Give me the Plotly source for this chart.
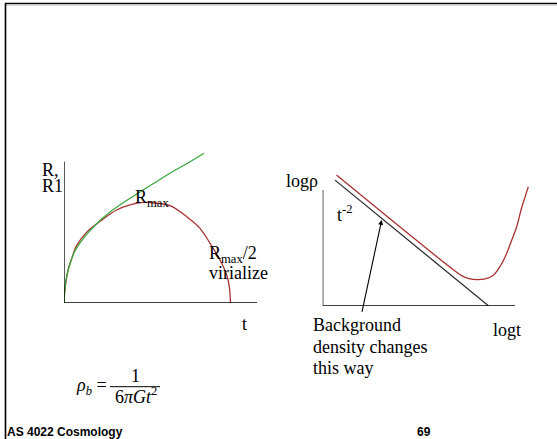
import plotly.graph_objects as go

W, H = 557, 439
SERIF = "Liberation Serif"
SANS = "Liberation Sans"
RED = "#a83030"
GREEN = "#3aa83a"

# ---- left panel data: radius of a perturbation vs time ----
t_pert = [0, 0.012, 0.052, 0.092, 0.153, 0.273, 0.432, 0.633, 0.793, 0.949,
          1.093, 1.273, 1.474, 1.634, 1.754, 1.874, 1.954, 1.986, 2.0]
R_pert = [0, 0.14, 0.34, 0.44, 0.575, 0.705, 0.812, 0.925, 0.975, 1.0,
          0.995, 0.968, 0.859, 0.743, 0.594, 0.428, 0.279, 0.159, 0.0]
t_bg = [0, 0.012, 0.036, 0.072, 0.120, 0.192, 0.288, 0.432, 0.577, 0.733,
        0.913, 1.093, 1.297, 1.489, 1.682]
R_bg = [0, 0.149, 0.279, 0.388, 0.498, 0.597, 0.697, 0.821, 0.920, 1.01,
        1.105, 1.199, 1.303, 1.393, 1.490]

# ---- right panel data: log density vs log time ----
logt_bg = [0.256, 3.443]
logrho_bg = [6.44, 0.0]
logt_pert = [0.287, 2.750, 2.917, 3.062, 3.208, 3.375, 3.541, 3.687, 3.811,
             3.915, 4.033, 4.123, 4.206, 4.274]
logrho_pert = [6.70, 1.78, 1.50, 1.37, 1.34, 1.37, 1.55, 2.01, 2.60,
               3.27, 4.05, 4.91, 5.57, 6.10]

# axis extents (data units)
L_XLEN, L_YLEN = 2.318, 1.408
R_XLEN, R_YLEN = 3.998, 5.93


def px(x):
    return x / W


def py(y):
    return 1 - y / H


fig = go.Figure()
fig.add_trace(go.Scatter(x=t_pert, y=R_pert, mode="lines", line=dict(color=RED, width=1.3),
                         line_shape="spline", xaxis="x", yaxis="y", showlegend=False, hoverinfo="skip"))
fig.add_trace(go.Scatter(x=t_bg, y=R_bg, mode="lines", line=dict(color=GREEN, width=1.3),
                         line_shape="spline", xaxis="x", yaxis="y", showlegend=False, hoverinfo="skip"))
fig.add_trace(go.Scatter(x=logt_bg, y=logrho_bg, mode="lines", line=dict(color="#222222", width=1.2),
                         xaxis="x2", yaxis="y2", showlegend=False, hoverinfo="skip"))
fig.add_trace(go.Scatter(x=logt_pert, y=logrho_pert, mode="lines", line=dict(color=RED, width=1.3),
                         line_shape="spline", xaxis="x2", yaxis="y2", showlegend=False, hoverinfo="skip"))

hidden = dict(visible=False, fixedrange=True)
fig.update_layout(
    width=W, height=H, margin=dict(l=0, r=0, t=0, b=0),
    paper_bgcolor="white", plot_bgcolor="white",
    xaxis=dict(domain=[px(64), px(257)], range=[0, 2.318], anchor="y", **hidden),
    yaxis=dict(domain=[py(303), py(150)], range=[0, 1.522], anchor="x", **hidden),
    xaxis2=dict(domain=[px(322.7), px(532)], range=[0, 4.351], anchor="y2", **hidden),
    yaxis2=dict(domain=[py(305.7), py(170)], range=[0, 6.959], anchor="x2", **hidden),
)

shapes = [
    dict(type="line", xref="x", yref="y", x0=0, y0=0, x1=L_XLEN, y1=0, line=dict(color="black", width=1.3)),
    dict(type="line", xref="x", yref="y", x0=0, y0=0, x1=0, y1=L_YLEN, line=dict(color="black", width=1.3)),
    dict(type="line", xref="x2", yref="y2", x0=0, y0=0, x1=R_XLEN, y1=0, line=dict(color="black", width=1.3)),
    dict(type="line", xref="x2", yref="y2", x0=0, y0=0, x1=0, y1=R_YLEN, line=dict(color="black", width=1.3)),
    # slide frame
    dict(type="line", xref="paper", yref="paper", x0=px(5), y0=py(3.5), x1=1, y1=py(3.5), line=dict(color="black", width=1.6)),
    dict(type="line", xref="paper", yref="paper", x0=px(5), y0=py(5.2), x1=1, y1=py(5.2), line=dict(color="#cccccc", width=1)),
    dict(type="line", xref="paper", yref="paper", x0=px(5.5), y0=py(3.5), x1=px(5.5), y1=0, line=dict(color="black", width=1.6)),
    # fraction bar
    dict(type="line", xref="paper", yref="paper", x0=px(110), y0=py(386.7), x1=px(160), y1=py(386.7), line=dict(color="black", width=1)),
]
fig.update_layout(shapes=shapes)

anns = []


def ann(text, x, base, fs=18, anchor="left", family=SERIF, dy=0.0, color="black"):
    yc = base - 0.34 * fs + dy
    anns.append(dict(text=text, x=px(x), y=py(yc), xref="paper", yref="paper",
                     xanchor=anchor, yanchor="middle", showarrow=False,
                     borderpad=0, borderwidth=0,
                     font=dict(family=family, size=fs, color=color)))


ann("R,", 41.7, 176.5, fs=18)
ann("R1", 41.7, 192.5, fs=18)
ann("R<sub>max</sub>", 135, 202.3, dy=2.5)
ann("R<sub>max</sub>/2", 209.3, 258, dy=2.5)
ann("virialize", 209.3, 279)
ann("t", 241.7, 330)
ann("logρ", 318, 187, anchor="right")
ann("t<sup>-2</sup>", 336.7, 221.7, dy=-2.5)
ann("Background", 312.7, 330.7)
ann("density changes", 312.7, 353)
ann("this way", 312.7, 374.5)
ann("logt", 493, 336)
ann("<i>ρ</i><sub><i>b</i></sub> =", 76, 390.5, dy=2.5)
ann("1", 135, 381.7, anchor="center")
ann("6<i>πGt</i><sup>2</sup>", 136, 404, anchor="center", dy=-2.5)
ann("<b>AS 4022 Cosmology</b>", 6.7, 436, fs=12, family=SANS)
ann("<b>69</b>", 417, 436, fs=12, family=SANS)

# arrow from label to background-density line
anns.append(dict(x=1.227, y=4.40, xref="x2", yref="y2", ax=0.81, ay=-0.39, axref="x2", ayref="y2",
                 text="", showarrow=True, arrowhead=2, arrowsize=0.9, arrowwidth=1.1, arrowcolor="black"))

fig.update_layout(annotations=anns)
fig.write_html("out.html", config={"displayModeBar": False},
               post_script="document.body.style.margin='0';document.body.style.overflow='hidden';")
